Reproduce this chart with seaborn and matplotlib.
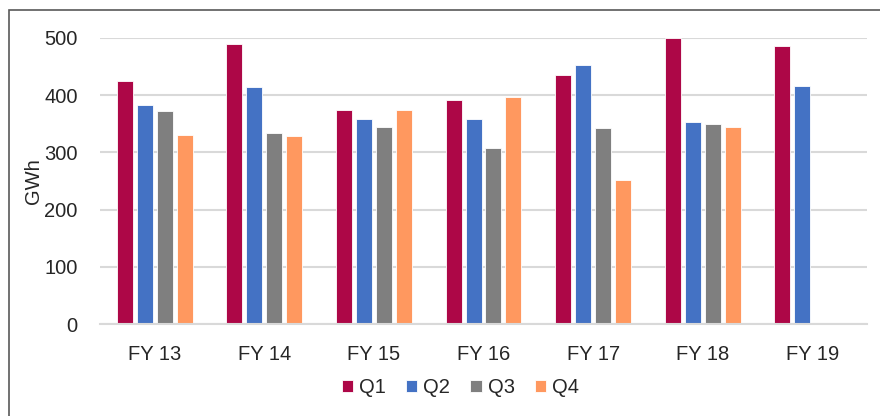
import matplotlib
matplotlib.use("Agg")
import matplotlib.pyplot as plt
import seaborn as sns
import pandas as pd
import numpy as np
from matplotlib.patches import Rectangle

years = ["FY 13", "FY 14", "FY 15", "FY 16", "FY 17", "FY 18", "FY 19"]
quarters = ["Q1", "Q2", "Q3", "Q4"]
q1 = [425, 490, 374, 391, 436, 500, 486]
q2 = [383, 414, 359, 359, 453, 354, 416]
q3 = [372, 334, 344, 307, 343, 349, np.nan]
q4 = [330, 328, 374, 397, 252, 345, np.nan]
colors = ["#AD0747", "#4472C4", "#7F7F7F", "#FF985F"]

rows = []
for qi, vals in zip(quarters, [q1, q2, q3, q4]):
    for y, v in zip(years, vals):
        rows.append({"year": y, "quarter": qi, "GWh": v})
df = pd.DataFrame(rows)

sns.set_theme(style="white")
plt.rcParams["font.family"] = ["Liberation Sans", "DejaVu Sans"]

fig = plt.figure(figsize=(8.8, 4.16), dpi=100)
ax = fig.add_axes([100/880, (416-324)/416, 767/880, (324-38)/416])

sns.barplot(data=df, x="year", y="GWh", hue="quarter", order=years, hue_order=quarters,
            palette=colors, width=0.73, gap=0.2, ax=ax, edgecolor="white", linewidth=0.6,
            saturation=1, errorbar=None)

ax.set_ylim(0, 500)
ax.set_yticks([0, 100, 200, 300, 400, 500])
ax.yaxis.grid(True, color="#D9D9D9", linewidth=1.5)
ax.set_axisbelow(True)
for s in ["top", "right", "left"]:
    ax.spines[s].set_visible(False)
ax.spines["bottom"].set_color("#D9D9D9")
ax.spines["bottom"].set_linewidth(1.5)
ax.tick_params(axis="y", length=0, pad=16, labelsize=14.5, colors="#262626")
ax.tick_params(axis="x", length=0, pad=15, labelsize=14.5, colors="#262626")
ax.set_xlabel("")
ax.set_ylabel("GWh", fontsize=14.5, color="#262626", labelpad=1)

leg = ax.legend(loc="upper center", bbox_to_anchor=(0.47, -0.125), ncol=4, frameon=False,
                fontsize=14.5, handlelength=0.55, handleheight=0.55, handletextpad=0.3,
                columnspacing=1.0)
for h in leg.legend_handles:
    h.set_edgecolor("white")

fig.patches.append(Rectangle((9/880, -0.1), 1.2, (416-10)/416 + 0.1, transform=fig.transFigure,
                             fill=False, edgecolor="#595959", linewidth=1.2))

fig.savefig("out.png", dpi=100)
